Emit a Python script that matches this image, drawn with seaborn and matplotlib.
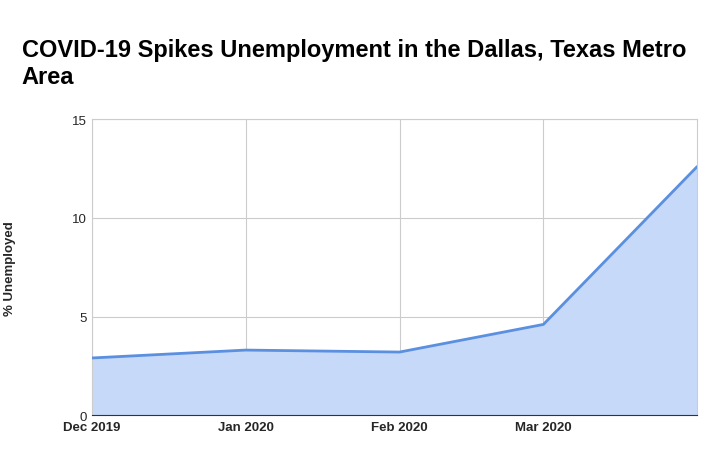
import matplotlib
matplotlib.use("Agg")
import matplotlib.pyplot as plt
import seaborn as sns
import pandas as pd

dates = ["2019-12-01", "2020-01-01", "2020-02-01", "2020-03-01", "2020-04-01"]
values = [2.9, 3.3, 3.2, 4.6, 12.6]
tick_labels = ["Dec 2019", "Jan 2020", "Feb 2020", "Mar 2020"]

df = pd.DataFrame({"date": pd.to_datetime(dates), "value": values})

sns.set_style("white")
plt.rcParams['font.family'] = ['Liberation Sans', 'DejaVu Sans']

fig = plt.figure(figsize=(7.27, 4.64), dpi=100)
ax = fig.add_axes([0.1265, 0.103, 0.959 - 0.1265, 0.741 - 0.103])
ax.fill_between(df["date"], df["value"], color="#c6d9f8", zorder=1)
sns.lineplot(data=df, x="date", y="value", ax=ax, color="#5b8fe0", linewidth=2, zorder=3)

ax.set_xlim(df["date"].iloc[0], df["date"].iloc[-1])
ax.set_ylim(0, 15)
ax.set_yticks([0, 5, 10, 15])
ax.set_xticks(df["date"].iloc[:4])
ax.set_xticklabels(tick_labels, fontweight="bold", fontsize=9.5)
for t in ax.get_yticklabels():
    t.set_fontsize(9.5)
ax.grid(True, color="#cccccc", linewidth=0.8, zorder=0)
ax.set_axisbelow(True)
for s in ["top", "right", "left"]:
    ax.spines[s].set_color("#cccccc")
ax.spines["bottom"].set_color("#333333")
ax.tick_params(axis="both", length=0, pad=4)
ax.set_xlabel("")
ax.set_ylabel("% Unemployed", fontweight="bold", fontsize=9.5, labelpad=40)

fig.text(0.03, 0.915, "COVID-19 Spikes Unemployment in the Dallas, Texas Metro\nArea",
         fontsize=17, fontweight="bold", ha="left", va="top", linespacing=1.2, color="black")

fig.savefig("out.png", dpi=100)
